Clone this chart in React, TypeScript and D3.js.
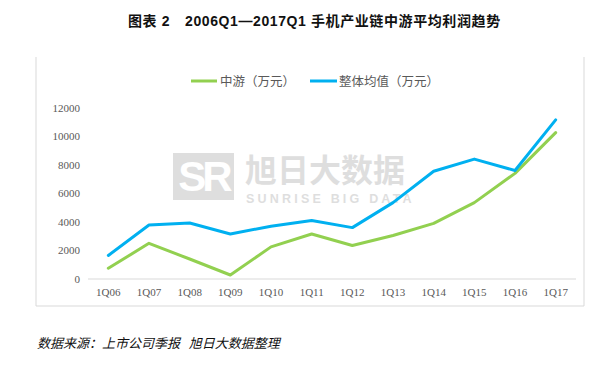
import * as d3 from "d3";

const quarters = ["1Q06", "1Q07", "1Q08", "1Q09", "1Q10", "1Q11", "1Q12", "1Q13", "1Q14", "1Q15", "1Q16", "1Q17"];
const midstream = [750, 2500, 1400, 280, 2250, 3150, 2350, 3050, 3900, 5350, 7400, 10250];
const overall = [1650, 3780, 3920, 3150, 3700, 4100, 3600, 5350, 7550, 8400, 7600, 11150];
const yTicks = [0, 2000, 4000, 6000, 8000, 10000, 12000];

const W = 603;
const H = 368;
const sans = "'Noto Sans CJK SC', 'Noto Sans', sans-serif";
const titleFont = "'Liberation Sans', 'Noto Sans CJK SC', sans-serif";
const serif = "'Liberation Serif', 'DejaVu Serif', serif";

export default function App() {
  const x = d3.scaleBand(quarters, [88, 576]);
  const y = d3.scaleLinear([0, 12000], [279, 107.7]);
  const cx = (q: string) => (x(q) ?? 0) + x.bandwidth() / 2;
  const line = d3.line<number>((_, i) => cx(quarters[i]), (d) => y(d));

  return (
    <svg width={W} height={H} style={{ position: "absolute", left: 0, top: 0, background: "#fff" }}>
      <text x={128} y={26} fontFamily={titleFont} fontSize={14} fontWeight="bold" fill="#111" letterSpacing={0.6}>
        图表 2
      </text>
      <text x={185} y={26} fontFamily={titleFont} fontSize={14} fontWeight="bold" fill="#111" letterSpacing={0.6}>
        2006Q1—2017Q1 手机产业链中游平均利润趋势
      </text>

      {/* frame */}
      <line x1={36} x2={36} y1={57} y2={306} stroke="#d9d9d9" />
      <line x1={584} x2={584} y1={57} y2={306} stroke="#d9d9d9" />
      <line x1={36} x2={584} y1={306} y2={306} stroke="#d9d9d9" />

      {/* watermark */}
      <g opacity={0.32}>
        <rect x={173} y={153} width={61} height={47} fill="#9a9a9a" />
        <text x={203.5} y={191} textAnchor="middle" fontFamily="'Liberation Sans', sans-serif" fontWeight="bold" fontSize={42} fill="#fff" letterSpacing={-4}>SR</text>
        <text x={245} y={182} fontFamily={sans} fontSize={32} fontWeight="bold" fill="#9a9a9a" letterSpacing={0}>旭日大数据</text>
        <text x={246} y={203} fontFamily="'Liberation Sans', sans-serif" fontSize={12.5} fontWeight="bold" fill="#9a9a9a" letterSpacing={3.2}>SUNRISE BIG DATA</text>
      </g>

      {/* legend */}
      <line x1={191} x2={217} y1={81} y2={81} stroke="#92d050" strokeWidth={3} />
      <text x={220} y={85.5} fontFamily={sans} fontSize={12.5} fill="#595959">中游（万元）</text>
      <line x1={310} x2={337} y1={81} y2={81} stroke="#00b0f0" strokeWidth={3} />
      <text x={339} y={85.5} fontFamily={sans} fontSize={12.5} fill="#595959">整体均值（万元）</text>

      {/* axes */}
      <line x1={88} x2={576} y1={y(0)} y2={y(0)} stroke="#d9d9d9" />
      {yTicks.map((t) => (
        <text key={t} x={80} y={y(t) + 4} textAnchor="end" fontFamily={serif} fontSize={11} fill="#595959">
          {t}
        </text>
      ))}
      {quarters.map((q) => (
        <text key={q} x={cx(q)} y={296} textAnchor="middle" fontFamily={serif} fontSize={11} fill="#595959">
          {q}
        </text>
      ))}

      {/* series */}
      <path d={line(midstream) ?? ""} fill="none" stroke="#92d050" strokeWidth={3} strokeLinejoin="round" strokeLinecap="round" />
      <path d={line(overall) ?? ""} fill="none" stroke="#00b0f0" strokeWidth={3} strokeLinejoin="round" strokeLinecap="round" />

      <text x={37} y={348} fontFamily={sans} fontSize={13} fontStyle="italic" fill="#111">
        数据来源：上市公司季报&#160;&#160;&#160;旭日大数据整理
      </text>
    </svg>
  );
}
